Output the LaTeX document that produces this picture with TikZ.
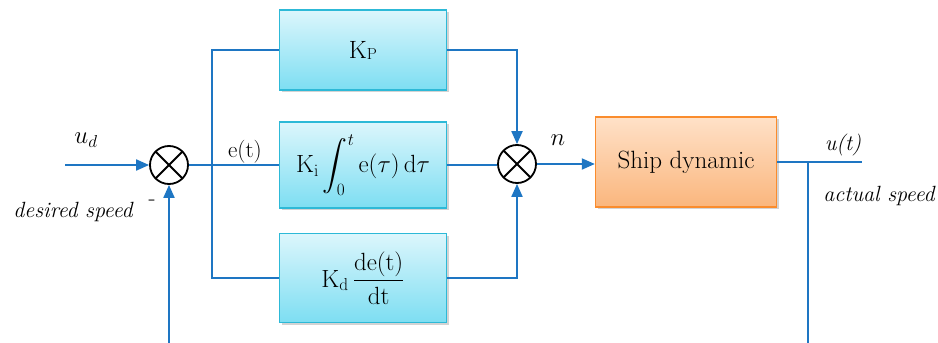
\documentclass[tikz,border=0pt]{standalone}
\usepackage{amsmath}
\usepackage{tikz}
\usetikzlibrary{arrows.meta,calc,positioning,shadows}
\definecolor{sigblue}{RGB}{30,118,195}
\definecolor{blkedge}{RGB}{45,185,215}
\definecolor{blktop}{RGB}{220,246,252}
\definecolor{blkbot}{RGB}{125,222,242}
\definecolor{shpedge}{RGB}{250,140,45}
\definecolor{shptop}{RGB}{255,225,200}
\definecolor{shpbot}{RGB}{250,182,125}
\tikzset{
  sig/.style={draw=sigblue,line width=2pt},
  sga/.style={sig,-{Triangle[length=13pt,width=11pt]}},
  sm/.style={circle,draw=black,line width=1.8pt,minimum size=38pt,inner sep=0pt,fill=white,
    path picture={\draw[line width=1.8pt] (path picture bounding box.north west)--(path picture bounding box.south east)
      (path picture bounding box.north east)--(path picture bounding box.south west);}},
  blk/.style={draw=blkedge,line width=1.4pt,top color=blktop,bottom color=blkbot,
    minimum width=167pt,font=\fontsize{25}{30}\selectfont,
    drop shadow={opacity=.35,shadow xshift=2pt,shadow yshift=-2pt}},
  shp/.style={draw=shpedge,line width=1.4pt,top color=shptop,bottom color=shpbot,
    minimum width=181pt,minimum height=90pt,font=\fontsize{25}{30}\selectfont,
    drop shadow={opacity=.35,shadow xshift=2pt,shadow yshift=-2pt}},
  lb/.style={font=\fontsize{23}{27}\selectfont},
  lbi/.style={font=\fontsize{22}{26}\selectfont\itshape},
  lbm/.style={font=\fontsize{27}{31}\selectfont},
}
\begin{document}
\begin{tikzpicture}[x=1pt,y=-1pt]
\useasboundingbox (0,0) rectangle (938,343);
% summing points and blocks
\node[sm] (s1) at (169,165) {};
\node[sm] (s2) at (517,164) {};
\node[blk,minimum height=80pt] (kp) at (363,50) {K\raisebox{-1pt}{\fontsize{16}{18}\selectfont P}};
\node[blk,minimum height=86pt] (ki) at (363,165)
  {$\mathrm{K_i}\displaystyle\int_0^t \mathrm{e}(\tau)\,\mathrm{d}\tau$};
\node[blk,minimum height=89pt] (kd) at (363,278)
  {$\mathrm{K_d}\,\dfrac{\mathrm{de(t)}}{\mathrm{dt}}$};
\node[shp] (ship) at (686,162) {Ship dynamic};
% free ends
\coordinate (in) at (65,165);
\coordinate (br) at (212,165);
\coordinate (out) at (862,162);
\coordinate (tap) at (808,162);
\coordinate (fbo) at (808,343);
\coordinate (fbi) at (169,343);
% signals
\draw[sga] (in) -- (s1);
\draw[sig] (s1) -- (br);
\draw[sig] (br) -- (ki);
\draw[sig] (br) |- (kp);
\draw[sig] (br) |- (kd);
\draw[sga] (kp) -| (s2);
\draw[sig] (ki) -- (ki -| s2.west);
\draw[sga] (kd) -| (s2);
\draw[sga] (s2) -- (s2 -| ship.west);
\draw[sig] (ship) -- (out);
\draw[sig] (tap) -- (fbo);
\draw[sga] (fbi) -- (s1);
% labels
\node[lbm] (lud) at (86,140) {$u_d$};
\node[lbi] (lds) at (73,212) {desired speed};
\node[lb] (lmin) at (152,203) {-};
\node[lb] (le) at (245,152) {e(t)};
\node[lbm] (ln) at (558,140) {$n$};
\node[lbi] (lu) at (843,145) {u(t)};
\node[lbi] (las) at (879,196) {actual speed};
\end{tikzpicture}
\end{document}
